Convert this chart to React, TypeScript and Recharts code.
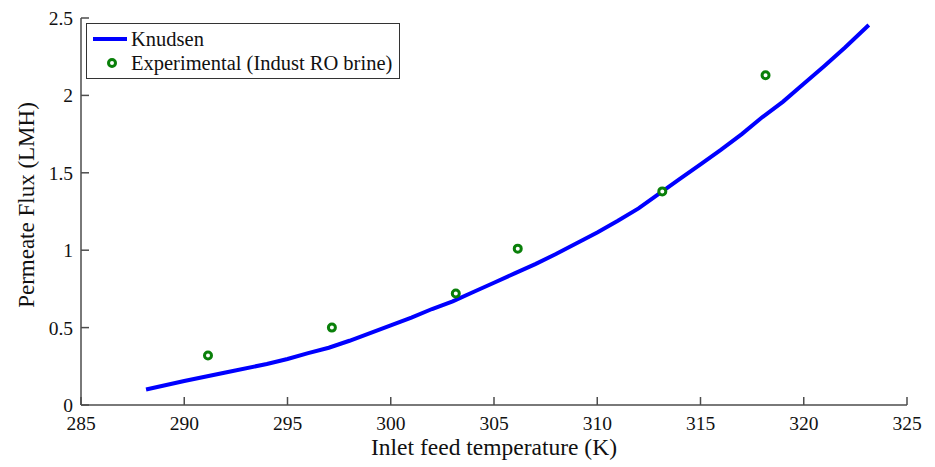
import React from 'react';
import { LineChart, Line, XAxis, YAxis } from 'recharts';

// Knudsen model curve
const modelTemps = [288.15, 290, 292, 294, 295, 296, 297, 298, 299, 300, 301, 302, 303, 304, 305, 306, 307, 308, 309, 310, 311, 312, 313, 314, 315, 316, 317, 318, 319, 320, 321, 322, 323.15];
const modelFlux = [0.10, 0.155, 0.21, 0.265, 0.297, 0.335, 0.37, 0.415, 0.465, 0.515, 0.565, 0.62, 0.67, 0.73, 0.79, 0.85, 0.91, 0.975, 1.045, 1.115, 1.19, 1.27, 1.365, 1.46, 1.555, 1.65, 1.75, 1.86, 1.96, 2.075, 2.19, 2.31, 2.455];

// experimental points (industrial RO brine)
const expTemps = [291.15, 297.15, 303.15, 306.15, 313.15, 318.15];
const expFlux = [0.32, 0.50, 0.72, 1.01, 1.38, 2.13];

const xTicks = [285, 290, 295, 300, 305, 310, 315, 320, 325];
const yTicks = [0, 0.5, 1, 1.5, 2, 2.5];

const modelData = modelTemps.map((t, i) => ({ t, v: modelFlux[i] }));
const expData = expTemps.map((t, i) => ({ t, v: expFlux[i] }));

const FONT = '"Liberation Serif", "Times New Roman", serif';
const AXIS = '#4d4d4d';
const BLUE = '#0000ff';
const GREEN = '#0a800a';
const TICK_LEN = 8;
const X_GAP = 11;
const Y_GAP = 8;

// matlab style: tick marks point into the plot box
const BottomTick = ({ x, y, payload }: any) => (
  <g>
    <line x1={x} x2={x} y1={y - X_GAP} y2={y - X_GAP - TICK_LEN} stroke={AXIS} strokeWidth={1.5} />
    <text x={x} y={y} dy="0.71em" textAnchor="middle" fontFamily={FONT} fontSize={19.5} fill="#111">{payload.value}</text>
  </g>
);

const LeftTick = ({ x, y, payload }: any) => (
  <g>
    <line x1={x + Y_GAP} x2={x + Y_GAP + TICK_LEN} y1={y} y2={y} stroke={AXIS} strokeWidth={1.5} />
    <text x={x} y={y} dy="0.355em" textAnchor="end" fontFamily={FONT} fontSize={19.5} fill="#111">{payload.value}</text>
  </g>
);

const TopTick = ({ x, y }: any) => (
  <line x1={x} x2={x} y1={y} y2={y + TICK_LEN} stroke={AXIS} strokeWidth={1.5} />
);

const RightTick = ({ x, y }: any) => (
  <line x1={x} x2={x - TICK_LEN} y1={y} y2={y} stroke={AXIS} strokeWidth={1.5} />
);

export default function App() {
  return (
    <div style={{ position: 'absolute', left: 0, top: 0, width: 935, height: 467, background: '#fff' }}>
      <LineChart width={935} height={467} margin={{ top: 18, right: 28, left: 0, bottom: 0 }}>
        <XAxis
          dataKey="t"
          type="number"
          domain={[285, 325]}
          ticks={xTicks}
          interval={0}
          height={62}
          stroke={AXIS}
          strokeWidth={1.5}
          tickLine={false}
          tickSize={0}
          tickMargin={X_GAP}
          tick={<BottomTick />}
        />
        <XAxis
          xAxisId="top"
          orientation="top"
          dataKey="t"
          type="number"
          domain={[285, 325]}
          ticks={xTicks}
          interval={0}
          height={0}
          stroke={AXIS}
          strokeWidth={1.5}
          tickLine={false}
          tickSize={0}
          tickMargin={0}
          tick={<TopTick />}
        />
        <YAxis
          type="number"
          domain={[0, 2.5]}
          ticks={yTicks}
          interval={0}
          width={81}
          stroke={AXIS}
          strokeWidth={1.5}
          tickLine={false}
          tickSize={0}
          tickMargin={Y_GAP}
          tick={<LeftTick />}
        />
        <YAxis
          yAxisId="right"
          orientation="right"
          type="number"
          domain={[0, 2.5]}
          ticks={yTicks}
          interval={0}
          width={0}
          stroke={AXIS}
          strokeWidth={1.5}
          tickLine={false}
          tickSize={0}
          tickMargin={0}
          tick={<RightTick />}
        />
        <Line
          data={modelData}
          dataKey="v"
          type="linear"
          stroke={BLUE}
          strokeWidth={4}
          dot={false}
          isAnimationActive={false}
        />
        {/* same domains as bottom/left, bound here so the top and right box edges get drawn */}
        <Line
          data={expData}
          xAxisId="top"
          yAxisId="right"
          dataKey="v"
          stroke="none"
          dot={{ r: 3.5, stroke: GREEN, strokeWidth: 3, fill: '#fff' }}
          isAnimationActive={false}
        />
      </LineChart>
      <svg width={935} height={467} style={{ position: 'absolute', left: 0, top: 0, pointerEvents: 'none' }}>
        <text x={494} y={455} textAnchor="middle" fontFamily={FONT} fontSize={23.5} fill="#111">
          Inlet feed temperature (K)
        </text>
        <text transform="translate(34,205) rotate(-90)" textAnchor="middle" fontFamily={FONT} fontSize={23} fill="#111">
          Permeate Flux (LMH)
        </text>
      </svg>
      <div
        style={{
          position: 'absolute', left: 86, top: 23, width: 314, height: 56, boxSizing: 'border-box',
          border: '1px solid #333', background: '#fff',
        }}
      >
        <svg width={314} height={56} style={{ position: 'absolute', left: -1, top: -1 }}>
          <line x1={7} x2={41} y1={16} y2={16} stroke={BLUE} strokeWidth={4} />
          <circle cx={26} cy={40} r={3.5} fill="#fff" stroke={GREEN} strokeWidth={3} />
          <text x={45} y={23} fontFamily={FONT} fontSize={20.5} fill="#111">Knudsen</text>
          <text x={45} y={47} fontFamily={FONT} fontSize={20.5} fill="#111">Experimental (Indust RO brine)</text>
        </svg>
      </div>
    </div>
  );
}
